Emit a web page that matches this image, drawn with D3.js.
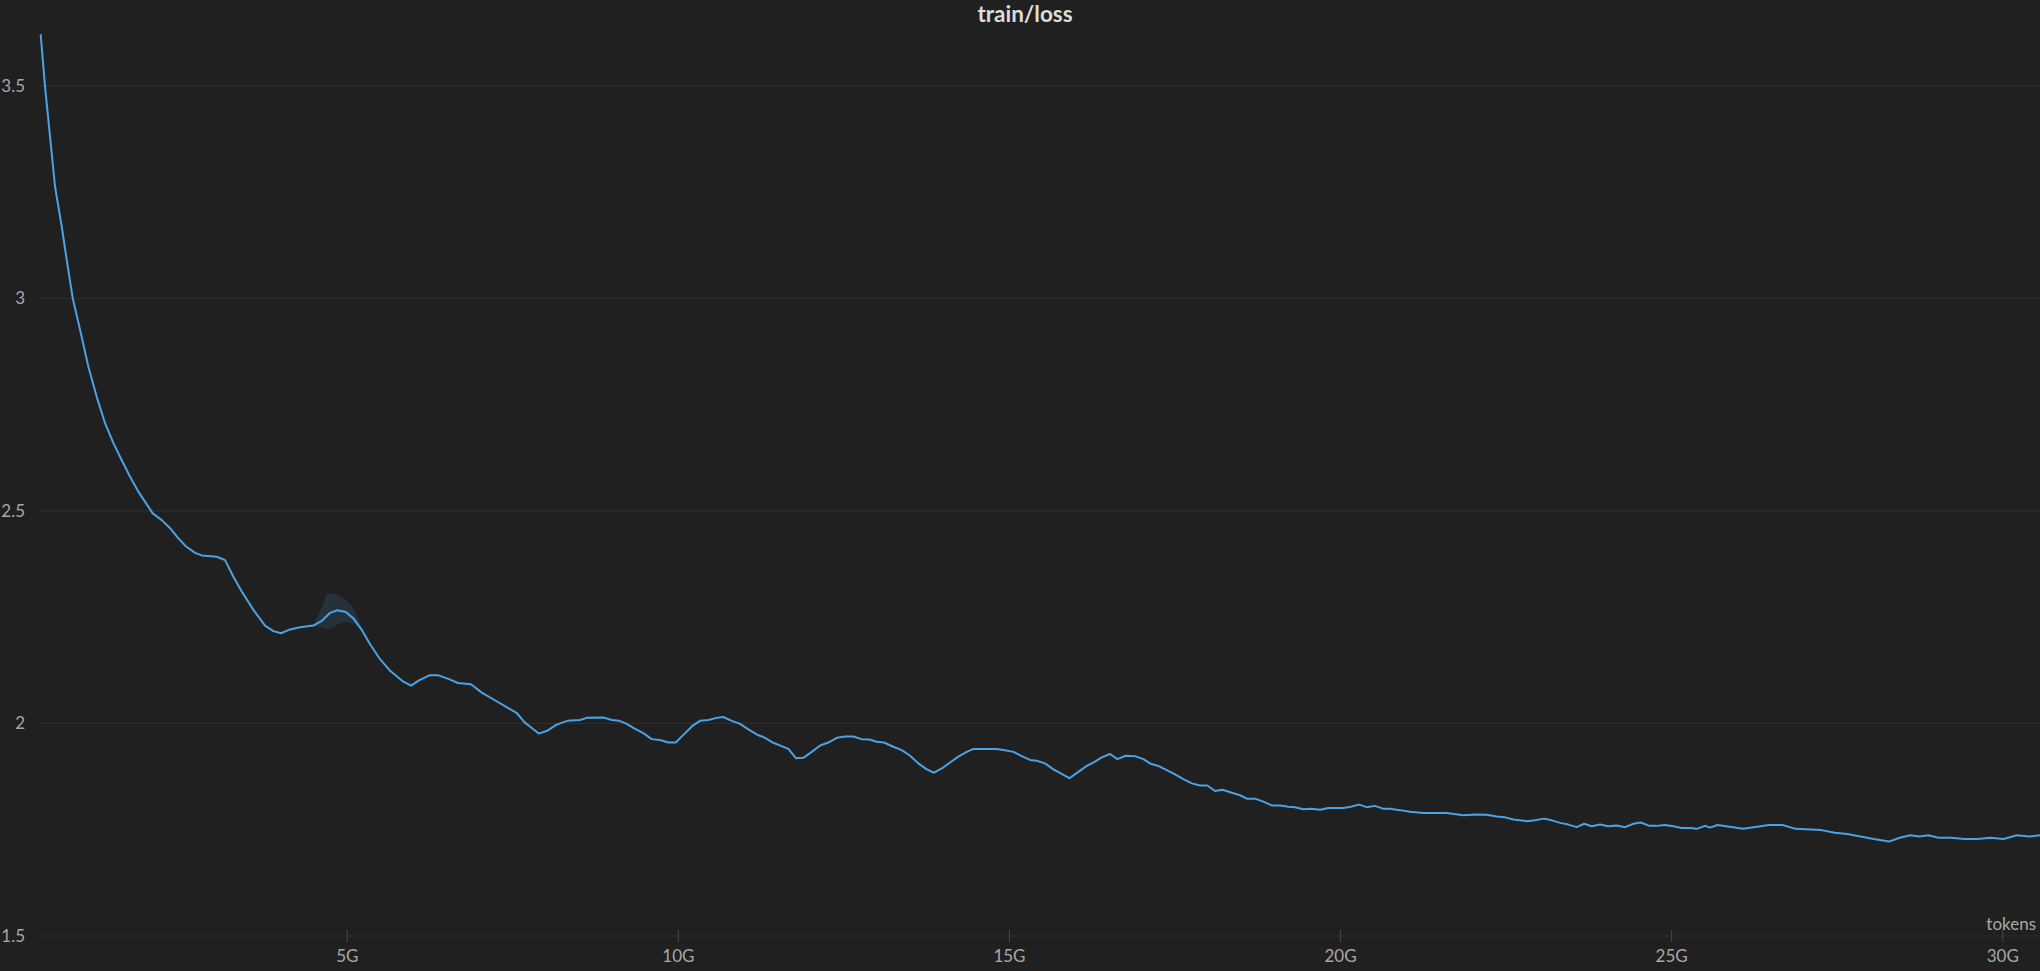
<!DOCTYPE html>
<html>
<head>
<meta charset="utf-8">
<script src="https://cdn.jsdelivr.net/npm/d3@7"></script>
<style>
  html, body { margin: 0; padding: 0; background: #202020; }
  svg { display: block; }
</style>
</head>
<body>
<svg id="chart" width="2040" height="971"></svg>
<script>
// ---- data (tokens in G, train loss) ----
const tokens = [
  0.378, 0.444, 0.519, 0.595, 0.696, 0.771, 0.862, 0.973, 1.098, 1.224, 1.350, 1.476, 1.602, 1.728, 1.853, 1.954,
  2.070, 2.206, 2.332, 2.457, 2.574, 2.710, 2.810, 3.037, 3.162, 3.288, 3.414, 3.590, 3.766, 3.892, 4.008, 4.144,
  4.295, 4.496, 4.622, 4.748, 4.858, 4.985, 5.100, 5.226, 5.352, 5.503, 5.659, 5.855, 5.973, 6.090, 6.248, 6.385,
  6.543, 6.680, 6.876, 7.034, 7.230, 7.427, 7.564, 7.682, 7.780, 7.898, 8.016, 8.170, 8.330, 8.523, 8.624, 8.875,
  9.001, 9.117, 9.228, 9.354, 9.479, 9.605, 9.731, 9.857, 9.968, 10.083, 10.219, 10.335, 10.461, 10.587, 10.687, 10.814,
  10.939, 11.065, 11.191, 11.317, 11.433, 11.558, 11.669, 11.785, 11.895, 12.022, 12.148, 12.273, 12.400, 12.525, 12.650, 12.777,
  12.892, 13.003, 13.114, 13.254, 13.381, 13.507, 13.632, 13.758, 13.870, 13.985, 14.110, 14.236, 14.362, 14.463, 14.714, 14.815,
  14.941, 15.067, 15.193, 15.318, 15.420, 15.545, 15.671, 15.797, 15.912, 16.048, 16.175, 16.300, 16.401, 16.527, 16.637, 16.764,
  16.904, 17.030, 17.141, 17.256, 17.382, 17.508, 17.634, 17.760, 17.886, 17.996, 18.112, 18.228, 18.364, 18.490, 18.591, 18.717,
  18.842, 18.968, 19.094, 19.219, 19.320, 19.446, 19.572, 19.698, 19.823, 20.050, 20.161, 20.287, 20.403, 20.528, 20.654, 20.755,
  20.906, 21.057, 21.258, 21.611, 21.862, 22.064, 22.215, 22.366, 22.492, 22.617, 22.819, 22.945, 23.081, 23.197, 23.323, 23.448,
  23.574, 23.685, 23.801, 23.927, 24.052, 24.178, 24.304, 24.430, 24.541, 24.671, 24.782, 24.908, 25.033, 25.160, 25.285, 25.386,
  25.512, 25.587, 25.700, 26.090, 26.480, 26.680, 26.880, 27.270, 27.470, 27.660, 27.860, 28.060, 28.290, 28.450, 28.610, 28.750,
  28.880, 29.040, 29.230, 29.430, 29.630, 29.820, 30.020, 30.220, 30.410, 30.570
];
const loss = [
  3.619, 3.497, 3.380, 3.262, 3.168, 3.090, 3.000, 2.925, 2.839, 2.768, 2.706, 2.659, 2.619, 2.580, 2.545, 2.521,
  2.494, 2.478, 2.459, 2.435, 2.416, 2.401, 2.395, 2.392, 2.384, 2.345, 2.310, 2.267, 2.230, 2.217, 2.212, 2.221,
  2.226, 2.230, 2.241, 2.260, 2.266, 2.262, 2.247, 2.220, 2.186, 2.151, 2.123, 2.098, 2.089, 2.101, 2.113, 2.113,
  2.104, 2.095, 2.092, 2.073, 2.055, 2.037, 2.025, 2.003, 1.991, 1.976, 1.982, 1.997, 2.006, 2.008, 2.013, 2.014,
  2.008, 2.006, 1.999, 1.987, 1.977, 1.963, 1.961, 1.955, 1.955, 1.973, 1.994, 2.006, 2.008, 2.013, 2.015, 2.006,
  1.999, 1.986, 1.974, 1.966, 1.955, 1.947, 1.940, 1.918, 1.919, 1.933, 1.948, 1.955, 1.966, 1.969, 1.969, 1.963,
  1.962, 1.957, 1.955, 1.945, 1.937, 1.924, 1.906, 1.892, 1.884, 1.894, 1.908, 1.922, 1.933, 1.940, 1.940, 1.940,
  1.937, 1.933, 1.923, 1.914, 1.912, 1.906, 1.892, 1.881, 1.871, 1.886, 1.900, 1.910, 1.920, 1.928, 1.916, 1.924,
  1.923, 1.916, 1.905, 1.900, 1.890, 1.880, 1.869, 1.859, 1.854, 1.854, 1.841, 1.844, 1.837, 1.831, 1.823, 1.823,
  1.816, 1.807, 1.807, 1.804, 1.803, 1.798, 1.799, 1.797, 1.801, 1.801, 1.804, 1.809, 1.803, 1.806, 1.799, 1.799,
  1.796, 1.792, 1.789, 1.789, 1.784, 1.786, 1.785, 1.781, 1.779, 1.774, 1.770, 1.772, 1.776, 1.772, 1.766, 1.762,
  1.756, 1.764, 1.758, 1.762, 1.758, 1.760, 1.756, 1.764, 1.767, 1.759, 1.759, 1.761, 1.758, 1.754, 1.754, 1.752,
  1.759, 1.755, 1.761, 1.752, 1.761, 1.761, 1.752, 1.749, 1.743, 1.740, 1.734, 1.728, 1.722, 1.731, 1.737, 1.734,
  1.737, 1.731, 1.731, 1.728, 1.728, 1.731, 1.728, 1.737, 1.734, 1.737
];
// min/max shaded band (visible only around 5G)
const bandTokens = [4.50, 4.62, 4.72, 4.85, 4.98, 5.10, 5.23];
const bandHi     = [2.232, 2.272, 2.306, 2.302, 2.290, 2.270, 2.222];
const bandLo     = [2.228, 2.225, 2.222, 2.232, 2.238, 2.235, 2.218];

const yTicks = [1.5, 2, 2.5, 3, 3.5];
const yTickLabels = ["1.5", "2", "2.5", "3", "3.5"];
const xTicks = [5, 10, 15, 20, 25, 30];
const xTickLabels = ["5G", "10G", "15G", "20G", "25G", "30G"];
const chartTitle = "train/loss";
const xTitle = "tokens";

// ---- drawing ----
const svg = d3.select("#chart");
const W = 2040, H = 971;
const plotLeft = 40.7, plotRight = 2040, plotTop = 21.8, plotBottom = 936;
const FONT = "Lato, 'Noto Sans', sans-serif";

const x = d3.scaleLinear().domain([0.378, 30.57]).range([plotLeft, plotRight]);
const y = d3.scaleLinear().domain([1.5, 3.65]).range([plotBottom, plotTop]);

svg.append("rect").attr("width", W).attr("height", H).attr("fill", "#202020");

// grid lines
svg.append("g")
  .selectAll("line").data(yTicks).join("line")
  .attr("x1", 40).attr("x2", W)
  .attr("y1", d => y(d)).attr("y2", d => y(d))
  .attr("stroke", "#2d2d2d").attr("stroke-width", 1.2);

// y axis labels
const yAxis = d3.axisLeft(y).tickValues(yTicks)
  .tickFormat((d, i) => yTickLabels[i]).tickSize(0).tickPadding(15);
const gy = svg.append("g").attr("transform", `translate(${40},0)`).call(yAxis);
gy.select(".domain").remove();
gy.selectAll("text").attr("fill", "#a8a8a8").style("font-family", FONT).style("font-size", "17px");

// x axis
const xAxis = d3.axisBottom(x).tickValues(xTicks)
  .tickFormat((d, i) => xTickLabels[i]).tickSize(12).tickPadding(8);
const gx = svg.append("g").attr("transform", `translate(0,${plotBottom - 6})`).call(xAxis);
gx.select(".domain").remove();
gx.selectAll("line").attr("stroke", "#4a4a4a");
gx.selectAll("text").attr("fill", "#a8a8a8").style("font-family", FONT).style("font-size", "17px");

// band
const band = bandTokens.map((t, i) => ({t, lo: bandLo[i], hi: bandHi[i]}));
svg.append("path").datum(band)
  .attr("d", d3.area().x(d => x(d.t)).y0(d => y(d.lo)).y1(d => y(d.hi)).curve(d3.curveMonotoneX))
  .attr("fill", "#4a9fe0").attr("fill-opacity", 0.14);

// line
const pts = tokens.map((t, i) => ({t, v: loss[i]}));
svg.append("path").datum(pts)
  .attr("d", d3.line().x(d => x(d.t)).y(d => y(d.v)))
  .attr("fill", "none").attr("stroke", "#4aa3e6").attr("stroke-width", 2)
  .attr("stroke-linejoin", "round").attr("stroke-linecap", "round");

// title
svg.append("text").attr("x", 1025).attr("y", 21.5).attr("text-anchor", "middle")
  .attr("fill", "#dcdcdc").style("font-family", FONT).style("font-weight", "bold").style("font-size", "22.5px")
  .text(chartTitle);

// x axis title
svg.append("text").attr("x", 2036).attr("y", 930).attr("text-anchor", "end")
  .attr("fill", "#a8a8a8").style("font-family", FONT).style("font-size", "17px")
  .text(xTitle);
</script>
</body>
</html>
